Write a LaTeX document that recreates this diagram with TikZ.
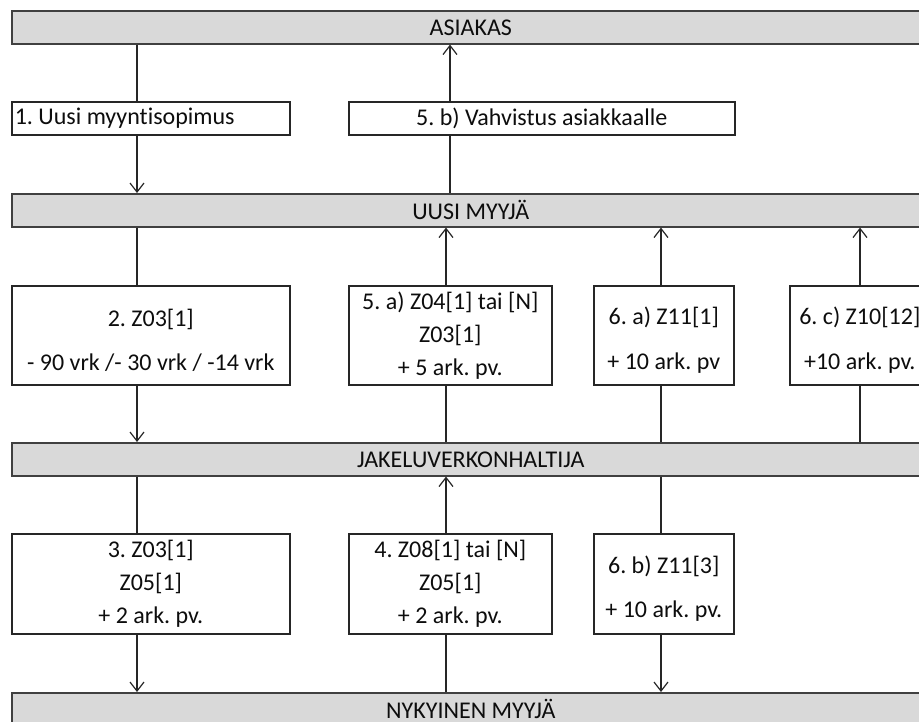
\documentclass[tikz,border=0pt]{standalone}
\usepackage{fontspec}
\setmainfont{Carlito}[Ligatures=NoCommon]
\usetikzlibrary{arrows.meta}
\frenchspacing
\begin{document}
\begin{tikzpicture}[x=1pt,y=-1pt,
  lane/.style={draw=black!75, line width=1.6pt, fill=black!15,
    minimum width=918pt, minimum height=33pt, anchor=north west, inner sep=0pt},
  msg/.style={draw=black!85, line width=1.6pt, fill=white,
    anchor=north west, inner sep=0pt, align=center},
  flow/.style={line width=1.2pt, draw=black!85},
  tip/.style={flow, -{Straight Barb[length=9pt,width=14pt]}},
  font=\fontsize{24}{33}\selectfont, text=black!95]

\newcommand\toppad{\rule{0pt}{27pt}}

\useasboundingbox (0,0) rectangle (919,722);
\clip (0,0) rectangle (919,722);

% parties
\node[lane] (asiakas) at (11,10)  {ASIAKAS};
\node[lane] (uusi)    at (11,193) {UUSI MYYJÄ};
\node[lane] (jakelu)  at (11,442) {JAKELUVERKONHALTIJA};
\node[lane] (nyky)    at (11,692) {NYKYINEN MYYJÄ};

% messages
\node[msg, minimum width=278pt, minimum height=33pt, inner xsep=3pt]
  (m1) at (11,101) {\makebox[272pt][l]{1. Uusi myyntisopimus}};
\node[msg, minimum width=386pt, minimum height=33pt] (m5b) at (348,101)
  {5. b) Vahvistus asiakkaalle};

\node[msg, minimum width=278pt, minimum height=99pt] (m2) at (11,285)
  {\toppad 2. Z03[1]\\[11.5pt]- 90 vrk /- 30 vrk / -14 vrk};
\node[msg, minimum width=203pt, minimum height=99pt] (m5a) at (348,285)
  {5. a) Z04[1] tai [N]\\Z03[1]\\+ 5 ark. pv.};
\node[msg, minimum width=140pt, minimum height=99pt] (m6a) at (593,285)
  {\toppad 6. a) Z11[1]\\[11.5pt]+ 10 ark. pv};
\node[msg, minimum width=140pt, minimum height=99pt] (m6c) at (789,285)
  {\toppad 6. c) Z10[12]\\[11.5pt]+10 ark. pv.};

\node[msg, minimum width=278pt, minimum height=100pt] (m3) at (11,533)
  {3. Z03[1]\\Z05[1]\\+ 2 ark. pv.};
\node[msg, minimum width=203pt, minimum height=100pt] (m4) at (348,533)
  {4. Z08[1] tai [N]\\Z05[1]\\+ 2 ark. pv.};
\node[msg, minimum width=140pt, minimum height=100pt] (m6b) at (593,533)
  {\toppad 6. b) Z11[3]\\[11.5pt]+ 10 ark. pv.};

% connector columns
\coordinate (k1)  at (137,0);
\coordinate (k5b) at (450,0);
\coordinate (k5a) at (446,0);
\coordinate (k6)  at (661,0);
\coordinate (k6c) at (860,0);

% flows
\draw[flow] (asiakas.south -| k1) -- (m1.north -| k1);
\draw[tip]  (m1.south -| k1) -- (uusi.north -| k1);
\draw[tip]  (m5b.north -| k5b) -- (asiakas.south -| k5b);
\draw[flow] (uusi.north -| k5b) -- (m5b.south -| k5b);

\draw[flow] (uusi.south -| k1) -- (m2.north -| k1);
\draw[tip]  (m2.south -| k1) -- (jakelu.north -| k1);
\draw[tip]  (m5a.north -| k5a) -- (uusi.south -| k5a);
\draw[flow] (jakelu.north -| k5a) -- (m5a.south -| k5a);
\draw[tip]  (m6a.north -| k6) -- (uusi.south -| k6);
\draw[flow] (jakelu.north -| k6) -- (m6a.south -| k6);
\draw[tip]  (m6c.north -| k6c) -- (uusi.south -| k6c);
\draw[flow] (jakelu.north -| k6c) -- (m6c.south -| k6c);

\draw[flow] (jakelu.south -| k1) -- (m3.north -| k1);
\draw[tip]  (m3.south -| k1) -- (nyky.north -| k1);
\draw[tip]  (m4.north -| k5a) -- (jakelu.south -| k5a);
\draw[flow] (nyky.north -| k5a) -- (m4.south -| k5a);
\draw[flow] (jakelu.south -| k6) -- (m6b.north -| k6);
\draw[tip]  (m6b.south -| k6) -- (nyky.north -| k6);
\end{tikzpicture}
\end{document}
